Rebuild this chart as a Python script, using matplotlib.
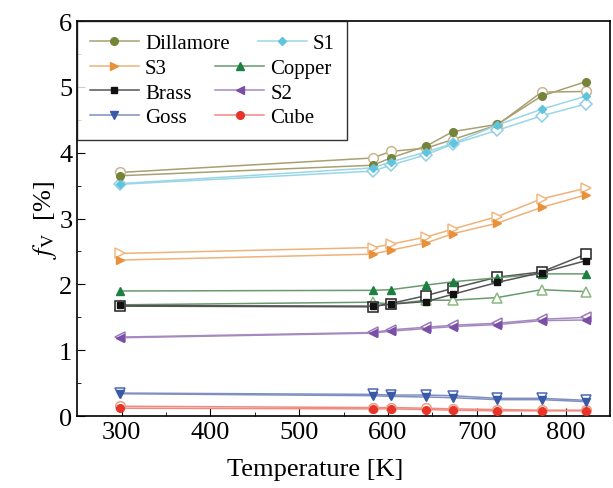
import numpy as np
import matplotlib.pyplot as plt
from matplotlib.offsetbox import DrawingArea
from matplotlib.transforms import Bbox

plt.rcParams['font.family'] = ['Liberation Serif', 'DejaVu Serif']
plt.rcParams['mathtext.fontset'] = 'stix'

# Data
temps = [298, 583, 603, 643, 673, 723, 773, 823]

dillamore = [3.65, 3.81, 3.92, 4.10, 4.32, 4.43, 4.86, 5.08]
dillamore_o = [3.70, 3.92, 4.02, 4.07, 4.20, 4.42, 4.92, 4.93]
s1 = [3.53, 3.77, 3.86, 4.01, 4.14, 4.42, 4.66, 4.86]
s1_o = [3.52, 3.72, 3.81, 3.97, 4.13, 4.34, 4.56, 4.74]
s3 = [2.37, 2.46, 2.52, 2.63, 2.77, 2.93, 3.17, 3.36]
s3_o = [2.47, 2.56, 2.61, 2.72, 2.84, 3.03, 3.30, 3.46]
copper = [1.90, 1.91, 1.92, 1.99, 2.04, 2.10, 2.16, 2.16]
copper_o = [1.69, 1.73, 1.70, 1.76, 1.76, 1.80, 1.92, 1.89]
brass = [1.68, 1.67, 1.70, 1.74, 1.85, 2.03, 2.18, 2.36]
brass_o = [1.67, 1.66, 1.71, 1.83, 1.94, 2.11, 2.19, 2.46]
s2 = [1.19, 1.26, 1.29, 1.33, 1.36, 1.39, 1.45, 1.46]
s2_o = [1.20, 1.27, 1.31, 1.35, 1.38, 1.41, 1.47, 1.50]
goss = [0.34, 0.31, 0.30, 0.29, 0.28, 0.25, 0.25, 0.22]
goss_o = [0.35, 0.33, 0.32, 0.32, 0.31, 0.27, 0.27, 0.24]
cube = [0.12, 0.11, 0.11, 0.10, 0.09, 0.08, 0.08, 0.08]
cube_o = [0.15, 0.13, 0.13, 0.12, 0.11, 0.10, 0.09, 0.09]

names = ['Dillamore', 'S1', 'S3', 'Copper', 'Brass', 'S2', 'Goss', 'Cube']
filled = [dillamore, s1, s3, copper, brass, s2, goss, cube]
opened = [dillamore_o, s1_o, s3_o, copper_o, brass_o, s2_o, goss_o, cube_o]
markers = ['o', 'D', '>', '^', 's', '<', 'v', 'o']
colors = ['#76843a', '#5fc4dc', '#e8913a', '#1b8040', '#111111', '#7b4fa8', '#3a5aa8', '#e8332a']
linecolors = ['#a8a070', '#9ad6e6', '#eeb27a', '#6a9a70', '#555555', '#a58ac0', '#7f90c0', '#f08a80']
open_edges = ['#c8b890', '#8fd0e2', '#f0b882', '#8ab880', '#222222', '#9a7ab8', '#4a6ab0', '#e8a080']
sizes = [5.5, 4.5, 5.5, 5.5, 5, 5.5, 5.5, 5.5]

fig = plt.figure(figsize=(6.13, 4.89), dpi=100)
ax = fig.add_axes([0.126, 0.147, 0.869, 0.808])

handles = []
for i in range(len(names)):
    h, = ax.plot(temps, filled[i], marker=markers[i], color=linecolors[i], lw=1.1,
                 mfc=colors[i], mec=colors[i], ms=sizes[i], label=names[i], zorder=3)
    ax.plot(temps, opened[i], marker=markers[i], color=linecolors[i], lw=1.1,
            mfc='white', mec=open_edges[i], mew=1.1, ms=sizes[i] + 1.5, zorder=2)
    handles.append(h)

# legend filled row by row, two columns
order = [0, 2, 4, 6, 1, 3, 5, 7]
leg = ax.legend([handles[k] for k in order], [names[k] for k in order], ncol=2,
                loc='upper left', bbox_to_anchor=(0, 1), fontsize=15, frameon=True,
                fancybox=False, edgecolor='black', borderaxespad=0, handlelength=2.35,
                handletextpad=0.3, columnspacing=1.15, labelspacing=0.25, borderpad=0.6)
leg.get_frame().set_linewidth(1.0)

# origin-style legend: "Dillamore" runs into column 2, S1 entry pushed right
cols = leg._legend_handle_box.get_children()
dil_text = cols[0].get_children()[0].get_children()[1]
orig_bbox = dil_text.get_bbox


def narrow_bbox(renderer, orig=orig_bbox):
    bb = orig(renderer)
    return Bbox.from_bounds(bb.x0, bb.y0, bb.width * 0.5, bb.height)


dil_text.get_bbox = narrow_bbox
cols[1].get_children()[0].get_children().insert(0, DrawingArea(26, 1))

ax.set_xlim(250, 850)
ax.set_ylim(0, 6)
ax.set_xticks([300, 400, 500, 600, 700, 800])
ax.set_xticks(np.arange(350, 850, 100), minor=True)
ax.set_yticks([0, 1, 2, 3, 4, 5, 6])
ax.set_yticks(np.arange(0.5, 6, 1), minor=True)
ax.tick_params(which='both', direction='in', labelsize=19)
ax.tick_params(which='major', length=6)
ax.tick_params(which='minor', length=3)
for s in ax.spines.values():
    s.set_linewidth(1.2)

ax.set_xlabel('Temperature [K]', fontsize=19, labelpad=2)
ax.xaxis.set_label_coords(0.447, -0.105)
ax.set_ylabel(r'$f_{\mathrm{V}}$  [%]', fontsize=19, labelpad=0)

fig.savefig('out.png', dpi=100)
